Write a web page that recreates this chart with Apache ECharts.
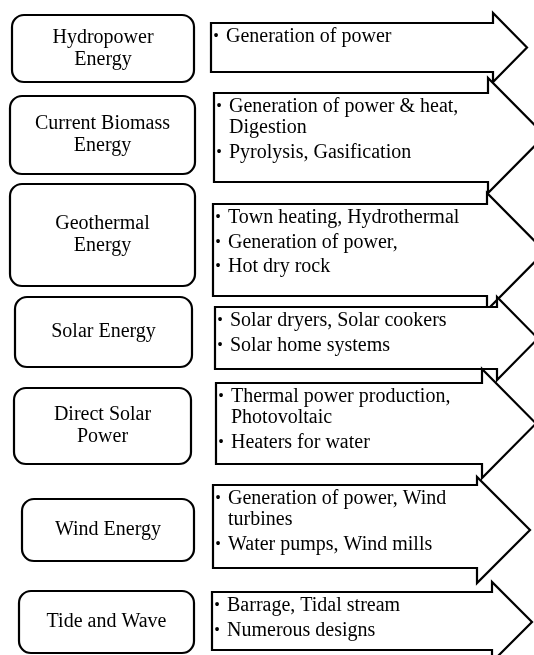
<!DOCTYPE html>
<html>
<head>
<meta charset="utf-8">
<script src="https://cdn.jsdelivr.net/npm/echarts@6/dist/echarts.min.js"></script>
<style>
html,body{margin:0;padding:0;background:#fff;}
#chart{width:534px;height:655px;}
</style>
</head>
<body>
<div id="chart"></div>
<script>
// ---- content (data) ----
const sources = [
  "Hydropower\nEnergy",
  "Current Biomass\nEnergy",
  "Geothermal\nEnergy",
  "Solar Energy",
  "Direct Solar\nPower",
  "Wind Energy",
  "Tide and Wave"
];
const uses = [
  ["Generation of power"],
  ["Generation of power & heat,\nDigestion", "Pyrolysis, Gasification"],
  ["Town heating, Hydrothermal", "Generation of power,", "Hot dry rock"],
  ["Solar dryers, Solar cookers", "Solar home systems"],
  ["Thermal power production,\nPhotovoltaic", "Heaters for water"],
  ["Generation of power, Wind\nturbines", "Water pumps, Wind mills"],
  ["Barrage, Tidal stream", "Numerous designs"]
];

// ---- layout (positions in axis units, kept apart from the data) ----
const boxLayout = [
  [12, 15, 194, 82],
  [10, 96, 195, 174],
  [10, 184, 195, 286],
  [15, 297, 192, 367],
  [14, 388, 191, 464],
  [22, 499, 194, 561],
  [19, 591, 194, 653]
];
// x0, rectTop, rectBottom, headBaseX, headTop, headBottom, tipX
const arrowLayout = [
  [211, 23, 72, 493, 13, 82, 527],
  [214, 93, 182, 488, 78, 193, 545],
  [213, 204, 296, 487, 193, 310, 545],
  [215, 307, 369, 497, 297, 380, 538],
  [216, 383, 464, 482, 369, 478, 536],
  [213, 485, 568, 477, 477, 583, 530],
  [212, 592, 650, 492, 582, 662, 532]
];
const FONT = '"Liberation Serif", "Times New Roman", serif';
const FS = 20;
const LABEL_LH = 22, LINE_LH = 21, PARA_LH = 24.5, FIRST_OFF = 14;

const chart = echarts.init(document.getElementById('chart'), null, {renderer: 'canvas'});

function renderItem(params, api) {
  const i = api.value(0);
  const P = (x, y) => api.coord([x, y]);
  const children = [];
  const a = arrowLayout[i];
  const [x0, rt, rb, xb, ht, hb, tip] = a;
  const pts = [[x0, rt], [xb, rt], [xb, ht], [tip, (ht + hb) / 2], [xb, hb], [xb, rb], [x0, rb]].map(p => P(p[0], p[1]));
  children.push({
    type: 'polygon',
    shape: {points: pts},
    style: {fill: '#fff', stroke: '#000', lineWidth: 2.2, lineJoin: 'miter'}
  });
  const b = boxLayout[i];
  const p1 = P(b[0], b[1]), p2 = P(b[2], b[3]);
  children.push({
    type: 'rect',
    shape: {x: Math.min(p1[0], p2[0]), y: Math.min(p1[1], p2[1]), width: Math.abs(p2[0] - p1[0]), height: Math.abs(p2[1] - p1[1]), r: 12},
    style: {fill: '#fff', stroke: '#000', lineWidth: 2.2}
  });
  // box label
  const lines = sources[i].split('\n');
  const cy = (b[1] + b[3]) / 2;
  lines.forEach((ln, k) => {
    const yy = cy + (k - (lines.length - 1) / 2) * LABEL_LH;
    const c = P((b[0] + b[2]) / 2, yy);
    children.push({
      type: 'text',
      style: {text: ln, x: c[0], y: c[1], fill: '#000', fontSize: FS, fontFamily: FONT, align: 'center', verticalAlign: 'middle'}
    });
  });
  // bullets
  let y = rt + FIRST_OFF;
  uses[i].forEach((u, ui) => {
    if (ui > 0) y += PARA_LH;
    const ls = u.split('\n');
    const bp = P(x0 + 5, y);
    children.push({
      type: 'text',
      style: {text: '\u2022', x: bp[0], y: bp[1], fill: '#000', fontSize: FS * 0.8, fontFamily: FONT, align: 'center', verticalAlign: 'middle'}
    });
    ls.forEach((ln, k) => {
      if (k > 0) y += LINE_LH;
      const tp = P(x0 + 15, y);
      children.push({
        type: 'text',
        style: {text: ln, x: tp[0], y: tp[1], fill: '#000', fontSize: FS, fontFamily: FONT, align: 'left', verticalAlign: 'middle'}
      });
    });
  });
  return {type: 'group', children};
}

chart.setOption({
  animation: false,
  backgroundColor: '#fff',
  grid: {left: 0, right: 0, top: 0, bottom: 0},
  xAxis: {type: 'value', min: 0, max: 534, show: false},
  yAxis: {type: 'value', min: 0, max: 655, inverse: true, show: false},
  series: [{
    type: 'custom',
    clip: false,
    renderItem,
    encode: {x: 0, y: 1},
    data: sources.map((_, i) => [i, 0])
  }]
});
</script>
</body>
</html>
